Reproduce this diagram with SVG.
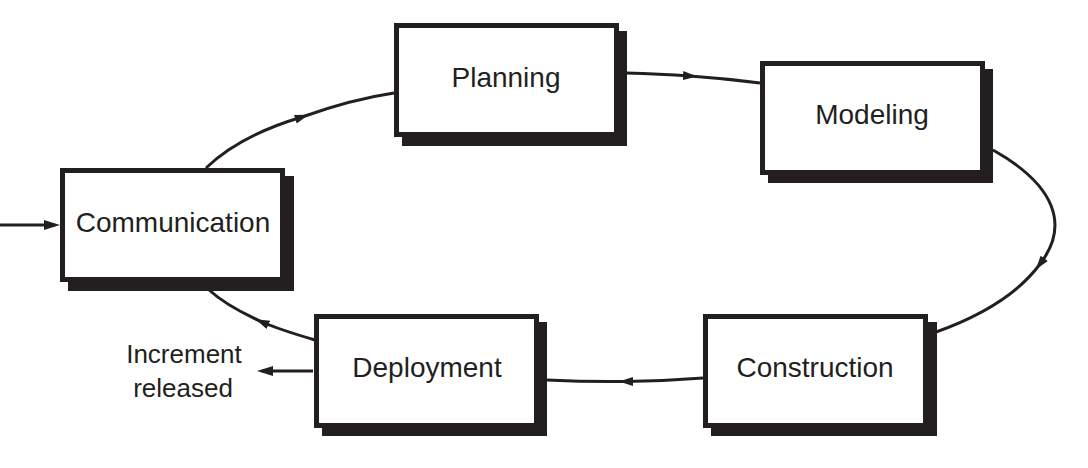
<svg xmlns="http://www.w3.org/2000/svg" width="1088" height="468" viewBox="0 0 1088 468">
<style>
.shadow{fill:#231f20}
.box{fill:#ffffff;stroke:#231f20;stroke-width:5}
.lbl{font-family:"Liberation Sans",Arial,sans-serif;font-size:28px;fill:#231f20;text-anchor:middle}
.side{font-family:"Liberation Sans",Arial,sans-serif;font-size:26px;fill:#231f20;text-anchor:middle}
.conn{fill:none;stroke:#231f20;stroke-width:3}
.mid{marker-mid:url(#midArrow)}
.end{marker-end:url(#endArrow)}
</style>
<defs>
<marker id="midArrow" markerUnits="userSpaceOnUse" markerWidth="14" markerHeight="10" refX="7" refY="4.5" orient="auto">
<path d="M0,0 L14,4.5 L0,9 z" fill="#231f20"/>
</marker>
<marker id="endArrow" markerUnits="userSpaceOnUse" markerWidth="16" markerHeight="10" refX="11" refY="5" orient="auto">
<path d="M0,0 L16,5 L0,10 z" fill="#231f20"/>
</marker>
</defs>
<rect width="1088" height="468" fill="#ffffff"/>

<g id="connectors">
<path class="conn end" d="M0,225 L55,225"/>
<path class="conn mid" d="M206,168 C232,143 265,128 302,117 C330,107 360,98 394,93"/>
<path class="conn mid" d="M626,73 Q660,74 690,76 Q725,78.5 760,83"/>
<path class="conn mid" d="M993,150 C1055,185 1070,225 1040,264 C1015,298 975,318 936,332"/>
<path class="conn mid" d="M703,378 Q665,381 626,381.5 Q587,382 547,380"/>
<path class="conn mid" d="M315,340 C298,335 278,329 262,322 C242,313 222,302 208,289"/>
<path class="conn end" d="M313,371 L262,371"/>
</g>

<g id="communication">
<rect class="shadow" x="68" y="176" width="226" height="115"/>
<rect class="box" x="62.5" y="170.5" width="220" height="109"/>
<text class="lbl" x="173" y="232">Communication</text>
</g>

<g id="planning">
<rect class="shadow" x="402" y="31" width="225" height="115"/>
<rect class="box" x="396.5" y="25.5" width="220" height="109"/>
<text class="lbl" x="506" y="87">Planning</text>
</g>

<g id="modeling">
<rect class="shadow" x="768" y="69" width="225" height="114"/>
<rect class="box" x="762.5" y="63.5" width="220" height="109"/>
<text class="lbl" x="872" y="124">Modeling</text>
</g>

<g id="construction">
<rect class="shadow" x="711" y="322" width="226" height="114"/>
<rect class="box" x="705.5" y="316.5" width="220" height="109"/>
<text class="lbl" x="815" y="377">Construction</text>
</g>

<g id="deployment">
<rect class="shadow" x="322" y="322" width="225" height="114"/>
<rect class="box" x="316.5" y="316.5" width="220" height="109"/>
<text class="lbl" x="427" y="377">Deployment</text>
</g>

<g id="increment-released">
<text class="side" x="184" y="363">Increment</text>
<text class="side" x="183" y="397">released</text>
</g>
</svg>
